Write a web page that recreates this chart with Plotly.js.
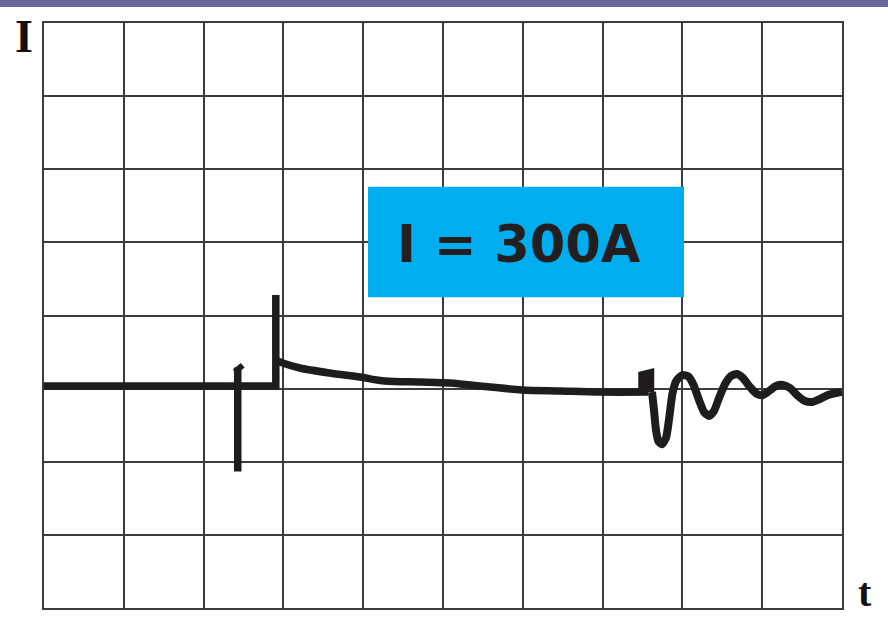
<!DOCTYPE html>
<html>
<head>
<meta charset="utf-8">
<script src="https://cdn.plot.ly/plotly-3.0.1.min.js"></script>
<style>html,body{margin:0;padding:0;background:#fff;}#chart{width:888px;height:626px;}</style>
</head>
<body>
<div id="chart"></div>
<script>
// Step part: baseline, negative spike, positive spike (time and current in grid divisions)
const stepT = [0, 2.428, 2.428, 2.428, 2.428, 2.905, 2.905, 2.905];
const stepI = [3.035, 3.035, 3.29, 1.867, 3.035, 3.035, 4.281, 3.391];
// Small flag at the top of the negative spike
const flagT = [2.39, 2.49];
const flagI = [3.23, 3.32];
// Decay after the switch-on spike
const decayT = [2.905, 2.992, 3.206, 3.582, 3.959, 4.272, 4.711, 5.088, 5.590, 5.991, 6.468, 6.970, 7.572];
const decayI = [3.391, 3.350, 3.282, 3.213, 3.158, 3.104, 3.090, 3.076, 3.022, 2.981, 2.967, 2.953, 2.953];
// Block at switch-off
const blockT = [7.497, 7.497, 7.597, 7.597];
const blockI = [2.953, 3.186, 3.213, 2.953];
// Damped oscillation
const oscT = [7.619, 7.644, 7.669, 7.700, 7.745, 7.795, 7.835, 7.875, 7.925, 8.000, 8.075, 8.140, 8.208, 8.271, 8.333, 8.396, 8.459, 8.534, 8.609, 8.684, 8.759, 8.847, 8.935, 9.010, 9.085, 9.173, 9.261, 9.348, 9.449, 9.536, 9.624, 9.724, 9.825, 9.925, 10.0];
const oscI = [2.954, 2.708, 2.434, 2.280, 2.240, 2.330, 2.600, 2.930, 3.110, 3.186, 3.165, 3.050, 2.844, 2.680, 2.626, 2.694, 2.872, 3.063, 3.173, 3.200, 3.145, 3.022, 2.926, 2.913, 2.967, 3.036, 3.050, 3.008, 2.899, 2.831, 2.817, 2.858, 2.913, 2.940, 2.954];

const labelText = 'I = 300A';
const yLabel = 'I';
const xLabel = 't';

const lineStyle = {color: '#1f1c1d', width: 7.5};
const traces = [
  {x: stepT, y: stepI, mode: 'lines', line: Object.assign({}, lineStyle, {shape: 'linear'}), hoverinfo: 'skip'},
  {x: flagT, y: flagI, mode: 'lines', line: Object.assign({}, lineStyle, {width: 6}), hoverinfo: 'skip'},
  {x: decayT, y: decayI, mode: 'lines', line: Object.assign({}, lineStyle, {shape: 'spline', smoothing: 0.8}), hoverinfo: 'skip'},
  {x: blockT, y: blockI, mode: 'lines', line: Object.assign({}, lineStyle, {shape: 'linear', width: 8}), hoverinfo: 'skip'},
  {x: oscT, y: oscI, mode: 'lines', line: Object.assign({}, lineStyle, {shape: 'spline', smoothing: 0.6, width: 8}), hoverinfo: 'skip'}
];

const axisCommon = {
  showgrid: true, gridcolor: '#3c3c3c', gridwidth: 2,
  zeroline: false, showticklabels: false, ticks: '',
  showline: true, mirror: true, linecolor: '#3c3c3c', linewidth: 2,
  dtick: 1, tick0: 0, fixedrange: true
};

const layout = {
  width: 888, height: 626,
  margin: {l: 44, r: 46, t: 23, b: 18, pad: 0},
  paper_bgcolor: '#ffffff', plot_bgcolor: '#ffffff',
  showlegend: false,
  xaxis: Object.assign({}, axisCommon, {range: [0, 10]}),
  yaxis: Object.assign({}, axisCommon, {range: [0, 8]}),
  shapes: [
    {type: 'rect', xref: 'paper', yref: 'paper', x0: -0.06, x1: 1.06, y0: 1 + (23 - 7) / 585, y1: 1 + 23 / 585,
     fillcolor: '#68689a', line: {width: 0}, layer: 'above'},
    {type: 'rect', xref: 'x', yref: 'y', x0: 4.06, x1: 8.02, y0: 4.25, y1: 5.76,
     fillcolor: '#00aeef', line: {width: 0}, layer: 'above'}
  ],
  annotations: [
    {text: '<b>' + labelText + '</b>', xref: 'x', yref: 'y', x: 5.955, y: 4.97, showarrow: false,
     xanchor: 'center', yanchor: 'middle', font: {family: 'DejaVu Sans', size: 51, color: '#231f20'}},
    {text: '<b>' + yLabel + '</b>', xref: 'paper', yref: 'paper', x: -0.011, y: 1.024, showarrow: false,
     xanchor: 'right', yanchor: 'top', font: {family: 'Liberation Serif', size: 46, color: '#111'}},
    {text: '<b>' + xLabel + '</b>', xref: 'paper', yref: 'paper', x: 1.018, y: -0.016, showarrow: false,
     xanchor: 'left', yanchor: 'bottom', font: {family: 'Liberation Serif', size: 40, color: '#111'}}
  ]
};

Plotly.newPlot('chart', traces, layout, {staticPlot: true, displayModeBar: false});
</script>
</body>
</html>
